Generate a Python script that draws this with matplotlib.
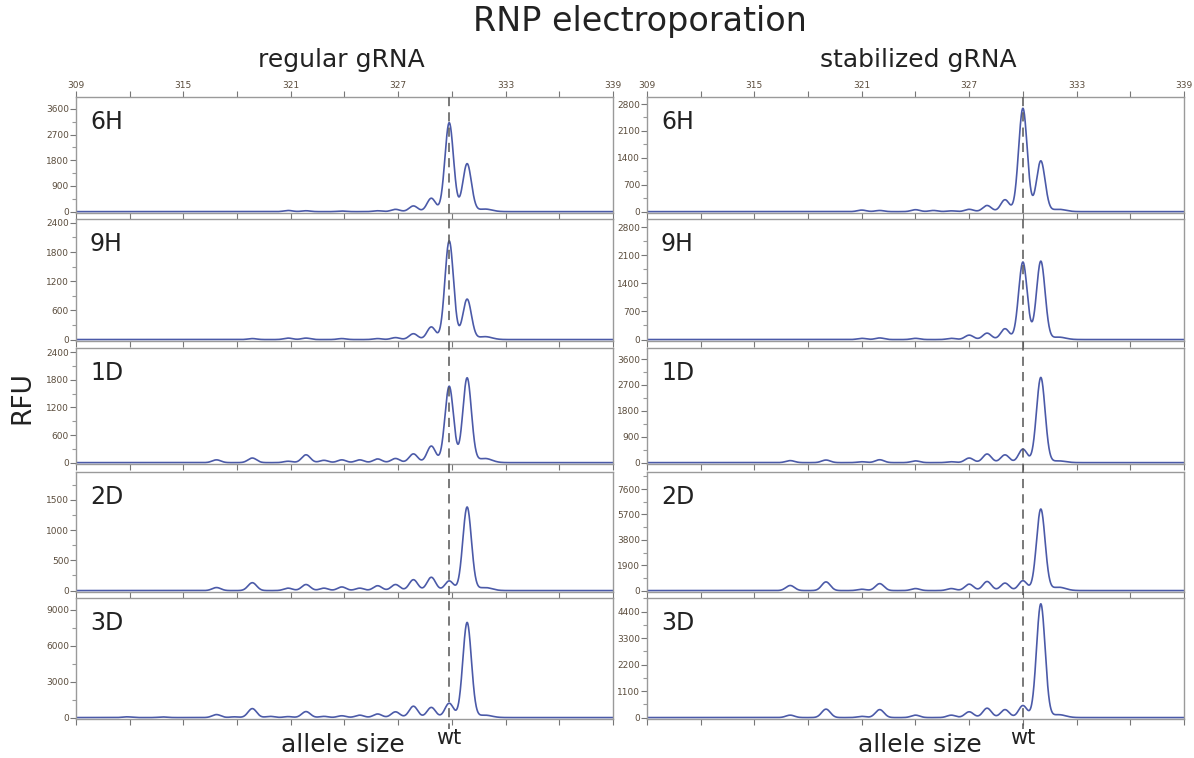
import numpy as np
import matplotlib
matplotlib.use("Agg")
import matplotlib.pyplot as plt
from matplotlib.lines import Line2D

# peak sizes (bp) and heights (RFU)
sizes = [312, 314, 317, 318, 319, 320, 321, 322, 323, 324, 325, 326, 327, 328, 329, 330, 331, 332]

reg_6H = [0, 0, 0, 0, 0, 0, 40, 30, 0, 20, 0, 30, 80, 200, 470, 3120, 1680, 90]
reg_9H = [0, 0, 0, 0, 20, 0, 30, 30, 0, 20, 0, 20, 40, 120, 260, 2030, 830, 60]
reg_1D = [0, 0, 60, 0, 100, 0, 30, 170, 50, 60, 60, 80, 90, 190, 360, 1660, 1840, 90]
reg_2D = [0, 0, 50, 0, 130, 0, 40, 100, 40, 60, 40, 80, 100, 180, 220, 160, 1380, 50]
reg_3D = [60, 50, 250, 60, 750, 100, 80, 500, 100, 150, 200, 300, 480, 950, 850, 1200, 7950, 200]

stab_6H = [0, 0, 0, 0, 0, 0, 40, 30, 0, 50, 30, 20, 60, 160, 310, 2690, 1320, 60]
stab_9H = [0, 0, 0, 0, 0, 0, 30, 40, 0, 30, 0, 30, 110, 160, 270, 1930, 1950, 60]
stab_1D = [0, 0, 70, 0, 90, 0, 30, 100, 0, 60, 0, 30, 160, 300, 270, 470, 2960, 60]
stab_2D = [0, 0, 380, 0, 650, 0, 100, 520, 0, 150, 0, 150, 480, 680, 560, 740, 6100, 250]
stab_3D = [0, 0, 100, 0, 350, 0, 50, 330, 0, 100, 0, 100, 240, 390, 330, 500, 4720, 120]

row_labels = ["6H", "9H", "1D", "2D", "3D"]
col_titles = ["regular gRNA", "stabilized gRNA"]
traces = [[reg_6H, reg_9H, reg_1D, reg_2D, reg_3D],
          [stab_6H, stab_9H, stab_1D, stab_2D, stab_3D]]
ytops = [[4020, 2480, 2490, 1960, 10000],
         [2983, 3000, 3984, 8880, 4966]]
ysteps = [[900, 600, 600, 500, 3000],
          [700, 700, 900, 1900, 1100]]
ymaxlab = [[3600, 2400, 2400, 1500, 9000],
           [2800, 2800, 3600, 7600, 4400]]
shift = [-0.15, 0.0]
wt = [329.85, 330.0]

W, H = 1194, 758
fig = plt.figure(figsize=(W / 100, H / 100), dpi=100)

def add_ax(l, t, r, b):
    return fig.add_axes([l / W, 1 - b / H, (r - l) / W, (b - t) / H])

rows = [(97, 213), (219, 341), (348, 464), (472, 592), (598, 719)]
cols = [(76, 613), (647, 1184)]

x = np.linspace(309, 339, 3000)
sig = 0.24
line_col = "#4b5aa8"
spine_col = "#9a9a9a"
lab_col = "#5a4c3c"

for c in range(2):
    for r in range(5):
        ax = add_ax(cols[c][0], rows[r][0], cols[c][1], rows[r][1])
        y = np.zeros_like(x)
        for p, h in zip(sizes, traces[c][r]):
            w = sig * 1.6 if p == 332 else sig
            y += h * np.exp(-(x - (p + shift[c])) ** 2 / (2 * w ** 2))
        ax.plot(x, y, color=line_col, lw=1.2)
        top = ytops[c][r]
        ax.set_xlim(309, 339)
        ax.set_ylim(-top * 0.012, top)
        st = ysteps[c][r]
        ax.set_yticks(np.arange(0, ymaxlab[c][r] + 1, st))
        ax.set_yticks(np.arange(st / 2, top, st), minor=True)
        ax.tick_params(axis="y", which="major", length=4, width=0.8, color="#777",
                       labelsize=6.5, labelcolor=lab_col, pad=1)
        ax.tick_params(axis="y", which="minor", length=3, width=0.8, color="#999")
        ax.set_xticks(np.arange(309, 340, 6))
        ax.set_xticks(np.arange(312, 340, 6), minor=True)
        if r == 0:
            ax.tick_params(axis="x", which="both", bottom=True, top=True,
                           labelbottom=False, labeltop=True, length=4, width=0.8,
                           color="#777", labelsize=6.5, labelcolor=lab_col, pad=1)
        else:
            ax.tick_params(axis="x", which="both", bottom=True, top=False,
                           labelbottom=False, length=4, width=0.8, color="#777")
        for s in ax.spines.values():
            s.set_color(spine_col)
            s.set_linewidth(1.0)
        ax.text(0.026, 0.89, row_labels[r], transform=ax.transAxes,
                fontsize=17, color="#222", va="top", ha="left")
        if r == 0:
            ax0 = ax
    # dashed wt line across all panels of the column
    xf = fig.transFigure.inverted().transform(ax0.transData.transform((wt[c], 0)))[0]
    fig.add_artist(Line2D([xf, xf], [1 - 97 / H, 1 - 729 / H], color="#555",
                          lw=1.1, ls=(0, (6, 4)), transform=fig.transFigure))
    fig.text(xf, 1 - 738 / H, "wt", ha="center", va="center", fontsize=15, color="#222")
    fig.text([343, 920][c] / W, 1 - 745 / H,
             "allele size", ha="center", va="center", fontsize=18, color="#222")
    fig.text([341, 918][c] / W, 1 - 60 / H, col_titles[c], ha="center", va="center",
             fontsize=18, color="#222")

fig.text(640 / W, 1 - 22 / H, "RNP electroporation", ha="center", va="center",
         fontsize=24, color="#222")
fig.text(22 / W, 1 - 398 / H, "RFU", ha="center", va="center", rotation=90,
         fontsize=19, color="#222")

fig.savefig("out.png", dpi=100)
